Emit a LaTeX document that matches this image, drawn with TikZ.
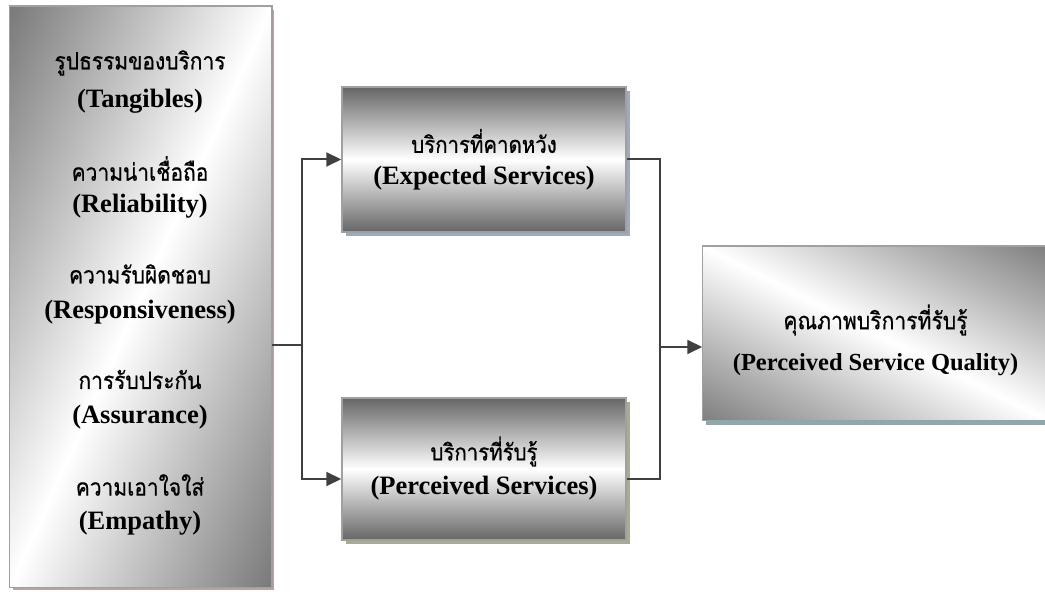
\documentclass[tikz,border=0pt]{standalone}
\usepackage{fontspec}
\setmainfont{Liberation Serif}
\newfontfamily\thaifont[Script=Thai, FakeStretch=0.88, FakeBold=0.7]{Loma}
\usetikzlibrary{arrows.meta,positioning,calc,shadows}

\definecolor{linegray}{HTML}{404040}
\definecolor{framegray}{HTML}{A0A0A0}
\definecolor{shadowrose}{HTML}{B8A2A2}
\definecolor{shadowblue}{HTML}{9EABBA}
\definecolor{shadowolive}{HTML}{A9AC94}
\definecolor{shadowteal}{HTML}{8DA8B0}

\tikzset{
  box/.style={draw=framegray, line width=1.5pt, inner sep=0pt},
  frame/.style={draw=framegray, line width=1.5pt},
  dimshade/.style={top color=black!#1, bottom color=black!#1, middle color=white},
  thai/.style={font=\thaifont\fontsize{23.8}{28}\selectfont, inner sep=0pt},
  eng/.style={font=\bfseries\fontsize{26.5}{30}\selectfont, inner sep=0pt},
  conn/.style={draw=linegray, line width=2pt},
  arr/.style={conn, -{Triangle[length=15pt,width=14pt]}},
}

\begin{document}
\begin{tikzpicture}[x=1pt,y=1pt]
  \useasboundingbox (0,0) rectangle (1045,592);

  % quality dimensions
  \node[box, fill=white,
        drop shadow={shadow xshift=3pt, shadow yshift=-3pt, fill=shadowrose, opacity=1},
        minimum width=261pt, minimum height=580pt] (dims) at (140.5,295) {};
  \begin{scope}
    \clip (dims.south west) rectangle (dims.north east);
    \shade[dimshade=55, transform canvas={shift={(dims.center)}, rotate=65.8}]
      (-700,-250) rectangle (700,250);
  \end{scope}
  \draw[frame] (dims.south west) rectangle (dims.north east);
  \foreach \th/\en [count=\i] in {รูปธรรมของบริการ/Tangibles, ความน่าเชื่อถือ/Reliability,
      ความรับผิดชอบ/Responsiveness, การรับประกัน/Assurance, ความเอาใจใส่/Empathy} {
    \node[thai] (th\i) at (140, 529-105.5*\i+105.5) {\th};
    \node[eng] (en\i) at (140, 491-105.5*\i+105.5) {(\en)};
  }

  % expected / perceived
  \node[box, dimshade=60,
        drop shadow={shadow xshift=4pt, shadow yshift=-4pt, fill=shadowblue, opacity=1},
        minimum width=284pt, minimum height=145pt] (expect) at (484,432.5) {};
  \node[thai, font=\thaifont\fontsize{23.2}{28}\selectfont] (expectth) at ($(expect)+(0,18.5)$) {บริการที่คาดหวัง};
  \node[eng] (expecten) at ($(expect)+(0,-19)$) {(Expected Services)};

  \node[box, dimshade=60,
        drop shadow={shadow xshift=4pt, shadow yshift=-4pt, fill=shadowolive, opacity=1},
        minimum width=284pt, minimum height=142pt] (perceive) at (484,123) {};
  \node[thai, font=\thaifont\fontsize{23.2}{28}\selectfont] (perceiveth) at ($(perceive)+(0,17.5)$) {บริการที่รับรู้};
  \node[eng] (perceiveen) at ($(perceive)+(0,-19)$) {(Perceived Services)};

  % result
  \node[box, fill=white,
        drop shadow={shadow xshift=3pt, shadow yshift=-5pt, fill=shadowteal, opacity=1},
        minimum width=345pt, minimum height=173pt] (quality) at (875.5,258.5) {};
  \begin{scope}
    \clip (quality.south west) rectangle (quality.north east);
    \shade[dimshade=52, transform canvas={shift={(quality.center)}, rotate=-26.6}]
      (-700,-160) rectangle (700,160);
  \end{scope}
  \draw[frame] (quality.south west) rectangle (quality.north east);
  \node[thai, font=\thaifont\fontsize{24}{28}\selectfont] (qualityth) at ($(quality)+(0,13.5)$) {คุณภาพบริการที่รับรู้};
  \node[eng, font=\bfseries\fontsize{24.5}{28}\selectfont] (qualityen) at ($(quality)+(0,-31.5)$) {(Perceived Service Quality)};

  % connectors
  \coordinate (fork) at (302,247);
  \coordinate (merge) at (660,245);
  \draw[conn] (dims.east |- fork) -- (fork);
  \draw[arr] (fork) |- (expect.west);
  \draw[arr] (fork) |- ($(perceive.west)+(0,-10)$);
  \draw[conn] (expect.east) -| (merge);
  \draw[conn] ($(perceive.east)+(0,-10)$) -| (merge);
  \draw[arr] (merge) -- (quality.west |- merge);
\end{tikzpicture}
\end{document}
